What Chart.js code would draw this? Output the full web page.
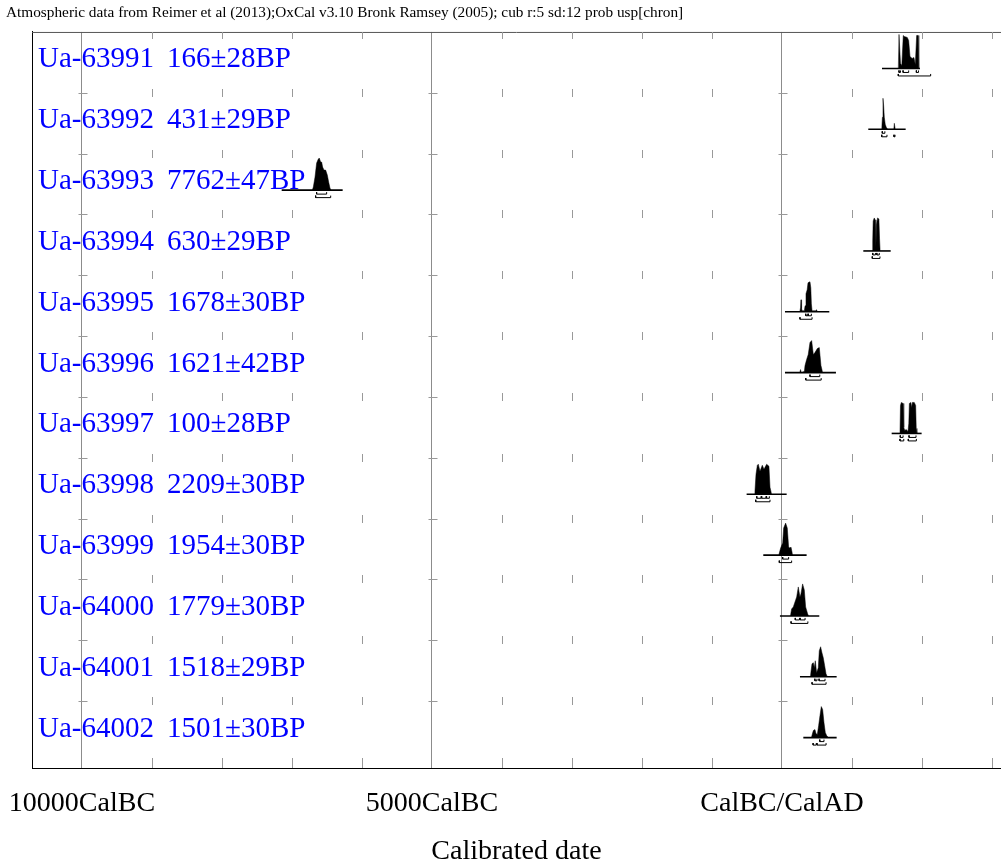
<!DOCTYPE html>
<html>
<head>
<meta charset="utf-8">
<script src="https://cdn.jsdelivr.net/npm/chart.js@4.4.0/dist/chart.umd.min.js"></script>
<style>
  html, body { margin: 0; padding: 0; background: #fff; }
  canvas { display: block; }
</style>
</head>
<body>
<canvas id="oxcal" width="1001" height="868"></canvas>
<script>
const sampleIds = ['Ua-63991', 'Ua-63992', 'Ua-63993', 'Ua-63994', 'Ua-63995', 'Ua-63996',
                   'Ua-63997', 'Ua-63998', 'Ua-63999', 'Ua-64000', 'Ua-64001', 'Ua-64002'];
const bpDates = ['166±28BP', '431±29BP', '7762±47BP', '630±29BP', '1678±30BP', '1621±42BP',
                 '100±28BP', '2209±30BP', '1954±30BP', '1779±30BP', '1518±29BP', '1501±30BP'];

// extent of the plotted calibration baseline (cal years, negative = BC)
const plotFrom = [1429, 1233, -7147, 1162, 43, 43, 1567, -505, -267, -29, 257, 305];
const plotTo   = [1971, 1767, -6276, 1553, 676, 771, 1995, 67, 352, 533, 781, 781];

// probability distributions (year, relative probability)
const distYears = [
  [1662, 1672, 1683, 1693, 1712, 1733, 1748, 1790, 1810, 1829, 1860, 1885, 1905, 1924, 1945, 1955],
  [1425, 1435, 1443, 1452, 1462, 1475, 1490, 1510, 1598, 1605, 1612, 1618],
  [-6710, -6695, -6671, -6648, -6624, -6610, -6590, -6576, -6562, -6543, -6519, -6495, -6476, -6457, -6443],
  [1290, 1296, 1303, 1318, 1333, 1342, 1350, 1365, 1385, 1394, 1402],
  [255, 265, 272, 280, 290, 320, 330, 343, 360, 372, 385, 400, 412, 420, 430, 480, 495, 505],
  [255, 265, 275, 320, 329, 352, 375, 400, 424, 448, 471, 505, 533, 557, 581],
  [1686, 1693, 1705, 1730, 1740, 1755, 1775, 1800, 1812, 1820, 1840, 1855, 1862, 1890, 1910, 1918, 1928],
  [-395, -386, -371, -352, -338, -314, -281, -257, -219, -186, -171, -148],
  [-45, -38, -19, 10, 24, 52, 76, 95, 114, 129, 152],
  [120, 138, 162, 186, 210, 233, 257, 271, 295, 319, 338, 367, 381],
  [405, 429, 448, 462, 476, 495, 519, 533, 552, 571, 590, 610, 629, 648],
  [420, 448, 471, 486, 505, 524, 543, 562, 581, 600, 619, 638, 662]
];
const distProbs = [
  [0, 34, 34, 5, 3, 33, 32, 31, 28, 12, 10, 11, 4, 33, 33, 0],
  [0, 12, 31, 24, 12, 5, 2, 0, 0, 6, 6, 0],
  [0, 3, 13, 27, 31, 32, 28, 28, 23, 20, 20, 15, 8, 2, 0],
  [0, 10, 30, 33, 31, 4, 26, 33, 32, 12, 0],
  [0, 4, 12, 3, 1, 1, 6, 18, 22, 29, 29, 30, 24, 8, 1, 1, 2, 0],
  [0, 3, 0, 1, 7, 13, 18, 30, 32, 18, 20, 24, 25, 7, 0],
  [0, 28, 31, 30, 6, 3, 4, 2, 10, 30, 31, 26, 31, 31, 28, 5, 0],
  [0, 3, 20, 29, 30, 23, 29, 25, 30, 28, 7, 0],
  [0, 2, 7, 12, 27, 32, 27, 8, 7, 8, 0],
  [0, 7, 9, 14, 19, 29, 19, 22, 32, 26, 9, 2, 0],
  [0, 13, 14, 9, 16, 4, 9, 26, 30, 24, 19, 11, 3, 0],
  [0, 7, 8, 4, 3, 12, 22, 31, 28, 15, 5, 2, 0]
];

// 68.2% and 95.4% ranges
const range68 = [
  [[1672, 1693], [1730, 1810], [1920, 1950]],
  [[1433, 1470]],
  [[-6648, -6505]],
  [[1297, 1335], [1355, 1390]],
  [[340, 370], [375, 420]],
  [[400, 540]],
  [[1690, 1730], [1815, 1915]],
  [[-360, -300], [-290, -230], [-220, -180]],
  [[10, 95]],
  [[190, 250], [260, 330]],
  [[470, 500], [530, 615]],
  [[540, 600]]
];
const range95 = [
  [[1662, 2124]],
  [[1425, 1500], [1600, 1615]],
  [[-6662, -6447]],
  [[1290, 1400]],
  [[257, 430]],
  [[340, 560]],
  [[1686, 1740], [1805, 1920]],
  [[-375, -171]],
  [[-38, 138]],
  [[130, 370]],
  [[430, 630]],
  [[445, 490], [500, 630]]
];

const axisTicks = [-10000, -9000, -8000, -7000, -6000, -5000, -4000, -3000, -2000, -1000, 0, 1000, 2000, 3000];
const majorTicks = [-10000, -5000, 0];
const majorLabels = ['10000CalBC', '5000CalBC', 'CalBC/CalAD'];

// --- Layout constants ---
const X_MIN = -10714, X_MAX = 3129;
const ROWS_MAX = 12.1;       // a little room under the last row
const ROW_PX = 736 / ROWS_MAX;
const BASE = 0.6;            // baseline inside each row
const SERIF = '"Liberation Serif", "Times New Roman", serif';

const px = v => v / ROW_PX;

// --- Build datasets ---
const datasets = [];
sampleIds.forEach((id, i) => {
  const base = i + BASE;

  datasets.push({
    label: id,
    data: distYears[i].map((yr, k) => ({ x: yr, y: base - px(distProbs[i][k]) })),
    borderColor: '#000',
    backgroundColor: '#000',
    borderWidth: 0.5,
    pointRadius: 0,
    fill: { value: base }
  });

  datasets.push({
    label: id + ' baseline',
    data: [{ x: plotFrom[i], y: base }, { x: plotTo[i], y: base }],
    borderColor: '#000',
    borderWidth: 1.6,
    pointRadius: 0,
    fill: false
  });

  [[range68[i], 4], [range95[i], 7.5]].forEach(([ranges, off]) => {
    const yb = base + px(off), yh = base + px(off - 2);
    const pts = [];
    ranges.forEach(([a, b]) => {
      pts.push({ x: a, y: yh }, { x: a, y: yb }, { x: b, y: yb }, { x: b, y: yh }, { x: b, y: null });
    });
    datasets.push({
      label: id + ' range',
      data: pts,
      borderColor: '#000',
      borderWidth: 1,
      pointRadius: 0,
      fill: false,
      spanGaps: false
    });
  });
});

// --- Plugin: frame, minor ticks and row labels ---
const oxcalDecor = {
  id: 'oxcalDecor',
  beforeDatasetsDraw(chart) {
    const { ctx, chartArea: a, scales: { x, y } } = chart;
    ctx.save();
    ctx.strokeStyle = '#555';
    ctx.lineWidth = 1;
    ctx.beginPath();
    ctx.moveTo(a.left, a.top + 0.5);
    ctx.lineTo(a.right, a.top + 0.5);
    ctx.stroke();

    ctx.strokeStyle = '#999';
    ctx.beginPath();
    x.ticks.forEach(t => {
      const xp = Math.round(x.getPixelForValue(t.value)) + 0.5;
      const major = majorTicks.includes(t.value);
      for (let r = 0; r < sampleIds.length; r++) {
        const yp = Math.round(y.getPixelForValue(r));
        if (major) {
          if (r > 0) { ctx.moveTo(xp - 4, yp + 0.5); ctx.lineTo(xp + 5, yp + 0.5); }
        } else if (r === 0) {
          ctx.moveTo(xp, yp); ctx.lineTo(xp, yp + 7);
        } else {
          ctx.moveTo(xp, yp - 4); ctx.lineTo(xp, yp + 4);
        }
      }
      if (!major) { ctx.moveTo(xp, a.bottom - 10); ctx.lineTo(xp, a.bottom); }
    });
    ctx.stroke();
    ctx.restore();
  },
  afterDatasetsDraw(chart) {
    const { ctx, chartArea: a, scales: { y } } = chart;
    ctx.save();
    ctx.font = '29px ' + SERIF;
    ctx.fillStyle = '#0000ff';
    ctx.textBaseline = 'alphabetic';
    sampleIds.forEach((id, i) => {
      const yp = y.getPixelForValue(i + BASE) - 1;
      ctx.fillText(id, a.left + 6, yp);
      ctx.fillText(bpDates[i], a.left + 135, yp);
    });
    ctx.restore();
  }
};

new Chart(document.getElementById('oxcal'), {
  type: 'line',
  data: { datasets },
  plugins: [oxcalDecor],
  options: {
    responsive: false,
    animation: false,
    layout: { padding: { left: 6, right: 0, top: 0, bottom: 0 } },
    plugins: {
      legend: { display: false },
      tooltip: { enabled: false },
      title: {
        display: true,
        text: 'Atmospheric data from Reimer et al (2013);OxCal v3.10 Bronk Ramsey (2005); cub r:5 sd:12 prob usp[chron]',
        align: 'start',
        color: '#000',
        font: { family: SERIF, size: 15.3, weight: 'normal' },
        padding: { top: 4, bottom: 9.6 }
      }
    },
    scales: {
      x: {
        type: 'linear',
        min: X_MIN,
        max: X_MAX,
        afterBuildTicks: s => { s.ticks = axisTicks.map(v => ({ value: v })); },
        ticks: {
          autoSkip: false,
          maxRotation: 0,
          minRotation: 0,
          padding: 19,
          color: '#000',
          font: { family: SERIF, size: 28 },
          callback: v => {
            const k = majorTicks.indexOf(v);
            return k >= 0 ? majorLabels[k] : '';
          }
        },
        grid: {
          drawTicks: false,
          lineWidth: 1,
          color: c => (c.tick && majorTicks.includes(c.tick.value)) ? '#8c8c8c' : 'rgba(0,0,0,0)'
        },
        border: { color: '#000', width: 1 },
        title: {
          display: true,
          text: 'Calibrated date',
          color: '#000',
          font: { family: SERIF, size: 28 },
          padding: { top: 0, bottom: 0 }
        },
        afterFit: s => { s.height = 100; s.paddingLeft = 0; s.paddingRight = 0; }
      },
      y: {
        type: 'linear',
        min: 0,
        max: ROWS_MAX,
        reverse: true,
        ticks: { display: false },
        grid: { display: false, drawTicks: false },
        border: { color: '#000', width: 1 },
        afterFit: s => { s.width = 26; }
      }
    }
  }
});
</script>
</body>
</html>
